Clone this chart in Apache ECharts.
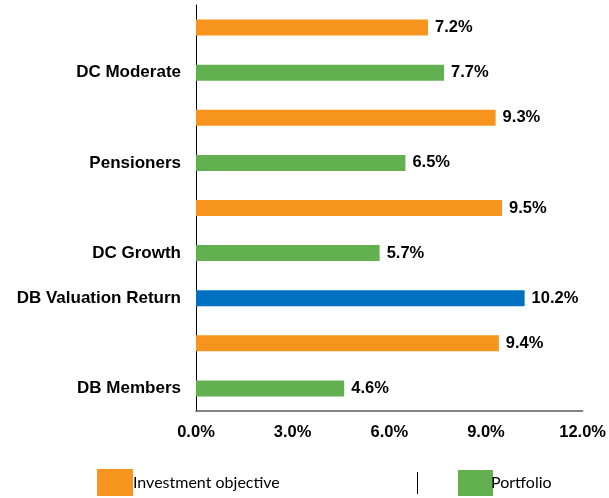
<!DOCTYPE html>
<html>
<head>
<meta charset="utf-8">
<script src="https://cdn.jsdelivr.net/npm/echarts@6/dist/echarts.min.js"></script>
<style>
  html, body { margin: 0; padding: 0; background: #fff; }
  #chart { width: 609px; height: 498px; }
</style>
</head>
<body>
<div id="chart"></div>
<script>
// rows from bottom to top
var categories = ["DB Members", "", "DB Valuation Return", "DC Growth", "", "Pensioners", "", "DC Moderate", ""];
var objectiveValues = [null, 9.4, null, null, 9.5, null, 9.3, null, 7.2];
var portfolioValues = [4.6, null, null, 5.7, null, 6.5, null, 7.7, null];
var valuationValues = [null, null, 10.2, null, null, null, null, null, null];
var xTicks = [0, 3, 6, 9, 12];

var labelFont = "Liberation Sans";
var pctLabel = {
  show: true,
  position: "right",
  distance: 7,
  color: "#000",
  fontFamily: labelFont,
  fontWeight: "bold",
  fontSize: 16.5,
  formatter: function (p) {
    return p.value == null ? "" : p.value.toFixed(1) + "%";
  }
};

var chart = echarts.init(document.getElementById("chart"));
chart.setOption({
  animation: false,
  grid: {
    left: 196,
    right: 20,
    top: 5,
    bottom: 87,
    containLabel: false
  },
  legend: [
    {
      left: 97,
      top: 469,
      padding: 0,
      itemWidth: 36,
      itemHeight: 27,
      icon: "rect",
      data: ["Investment objective"],
      textStyle: { fontFamily: "Lato", fontSize: 16, color: "#000", padding: [4, 0, 0, -5] }
    },
    {
      left: 458,
      top: 470,
      padding: 0,
      itemWidth: 35,
      itemHeight: 26,
      icon: "rect",
      data: ["Portfolio"],
      textStyle: { fontFamily: "Lato", fontSize: 16, color: "#000", padding: [3, 0, 0, -7] }
    }
  ],
  graphic: [
    {
      type: "line",
      shape: { x1: 417.5, y1: 472, x2: 417.5, y2: 494 },
      style: { stroke: "#000", lineWidth: 1 }
    }
  ],
  xAxis: {
    type: "value",
    min: xTicks[0],
    max: xTicks[xTicks.length - 1],
    interval: 3,
    axisLine: { show: true, lineStyle: { color: "#595959", width: 1.5 } },
    axisTick: { show: false },
    splitLine: { show: false },
    axisLabel: {
      margin: 13,
      color: "#000",
      fontFamily: labelFont,
      fontWeight: "bold",
      fontSize: 16.5,
      formatter: function (v) { return v.toFixed(1) + "%"; }
    }
  },
  yAxis: {
    type: "category",
    data: categories,
    axisLine: { show: true, lineStyle: { color: "#000", width: 1 } },
    axisTick: { show: false },
    axisLabel: {
      margin: 15,
      interval: 0,
      color: "#000",
      fontFamily: labelFont,
      fontWeight: "bold",
      fontSize: 17
    }
  },
  series: [
    {
      name: "Investment objective",
      type: "bar",
      data: objectiveValues,
      barWidth: 16,
      barGap: "-100%",
      itemStyle: { color: "#F7941D" },
      label: pctLabel
    },
    {
      name: "Portfolio",
      type: "bar",
      data: portfolioValues,
      barWidth: 16,
      barGap: "-100%",
      itemStyle: { color: "#62B050" },
      label: pctLabel
    },
    {
      name: "DB Valuation Return",
      type: "bar",
      data: valuationValues,
      barWidth: 16,
      barGap: "-100%",
      itemStyle: { color: "#0070C0" },
      label: pctLabel
    }
  ]
});
</script>
</body>
</html>
